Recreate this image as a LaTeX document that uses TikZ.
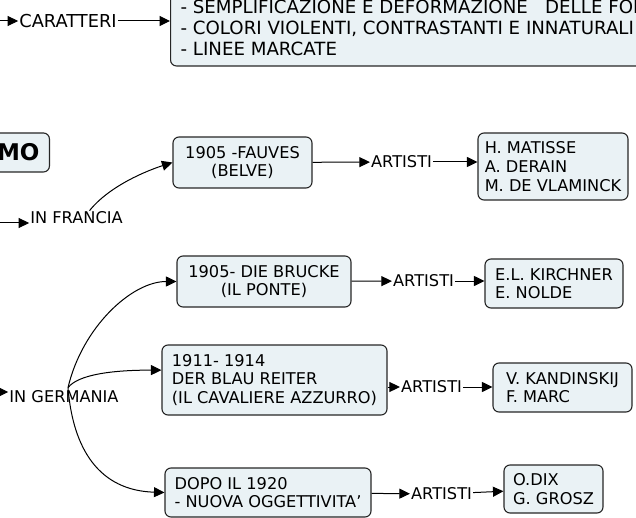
\documentclass[tikz,border=0pt]{standalone}
\usepackage{fontspec}
\setmainfont{DejaVu Sans}
\usetikzlibrary{arrows.meta}

\definecolor{boxfill}{RGB}{234,242,245}
\tikzset{
  box/.style={draw=black!85, fill=boxfill, rounded corners=6pt, line width=1.1pt,
    inner sep=3pt, font=\fontsize{16.2}{18.7}\selectfont},
  lbl/.style={inner sep=1pt, font=\fontsize{16.2}{18.7}\selectfont},
  link/.style={line width=1pt, -{Triangle[length=10.5pt,width=10pt]}},
}

\begin{document}
\begin{tikzpicture}[x=1pt,y=-1pt]
\useasboundingbox (0,0) rectangle (636,518);
\clip (0,0) rectangle (636,518);

% caratteri
\node[box, anchor=west, align=left, minimum height=76pt, inner xsep=10pt,
  font=\fontsize{18.2}{21}\selectfont] (tratti) at (170,28)
  {- SEMPLIFICAZIONE E DEFORMAZIONE\ \ \ DELLE FORME\\
   - COLORI VIOLENTI, CONTRASTANTI E INNATURALI\\
   - LINEE MARCATE};
\node[lbl, font=\fontsize{17.8}{21}\selectfont] (caratteri) at (68,21) {CARATTERI};
\coordinate (c0) at (-2,21);
\draw[link] (c0) -- (caratteri);
\draw[link] (caratteri) -- (caratteri -| tratti.west);

% titolo
\node[box, anchor=east, minimum height=39pt, inner xsep=10pt,
  font=\fontsize{23}{26}\selectfont\bfseries] (espr) at (50,152.5) {ESPRESSIONISMO};

% francia
\node[lbl] (francia) at (76.5,218) {IN FRANCIA};
\coordinate (fr0) at (-2,223);
\draw[link] (fr0) -- (fr0 -| francia.west);
\node[box, minimum width=139pt, minimum height=51pt, align=center] (fauves) at (242.5,162.5)
  {1905 -FAUVES\\(BELVE)};
\draw[link] ([xshift=13pt]francia.north) .. controls +(20,-25) and +(-25,8) .. (fauves.west);
\node[lbl] (art1) at (401.5,162) {ARTISTI};
\draw[link] (fauves) -- (art1);
\node[box, minimum width=150pt, minimum height=67pt, align=left] (matisse) at (553,166.5)
  {H. MATISSE\\A. DERAIN\\M. DE VLAMINCK};
\draw[link] (art1) -- (art1 -| matisse.west);

% germania
\node[lbl] (germania) at (64,397) {IN GERMANIA};
\coordinate (ge0) at (-4,392);
\draw[link] (ge0) -- (ge0 -| germania.west);
\coordinate (gsplit) at ([xshift=4pt,yshift=2pt]germania.north);

\node[box, minimum width=174pt, minimum height=51pt, align=center] (brucke) at (264,281.5)
  {1905- DIE BRUCKE\\(IL PONTE)};
\draw[link] (gsplit) .. controls +(14,-60) and +(-45,0) .. (brucke.west);
\node[lbl] (art2) at (423.5,281) {ARTISTI};
\draw[link] (brucke) -- (art2);
\node[box, minimum width=138pt, minimum height=49pt, align=left] (kirchner) at (554,283.5)
  {E.L. KIRCHNER\\E. NOLDE};
\draw[link] (art2) -- (art2 -| kirchner.west);

\node[box, minimum width=225pt, minimum height=70pt, align=left] (blau) at (274.5,380)
  {1911- 1914\\DER BLAU REITER\\(IL CAVALIERE AZZURRO)};
\draw[link] (gsplit) .. controls +(10,-13) and +(-50,0) .. (blau.175);
\node[lbl] (art3) at (431.5,387) {ARTISTI};
\draw[link] (art3 -| blau.east) -- (art3);
\node[box, minimum width=139pt, minimum height=49pt, align=left] (kand) at (562.5,387.5)
  {V. KANDINSKIJ\\F. MARC};
\draw[link] (art3) -- (art3 -| kand.west);

\node[box, minimum width=206pt, minimum height=49pt, align=left] (nuova) at (268,492.5)
  {DOPO IL 1920\\- NUOVA OGGETTIVITA'};
\draw[link] (gsplit) .. controls +(5,62) and +(-65,-2) .. (nuova.west);
\node[lbl] (art4) at (441.5,494) {ARTISTI};
\draw[link] (nuova) -- (art4);
\node[box, minimum width=99pt, minimum height=48pt, align=left] (dix) at (553.5,489)
  {O.DIX\\G. GROSZ};
\draw[link] (art4) -- (dix);
\end{tikzpicture}
\end{document}
